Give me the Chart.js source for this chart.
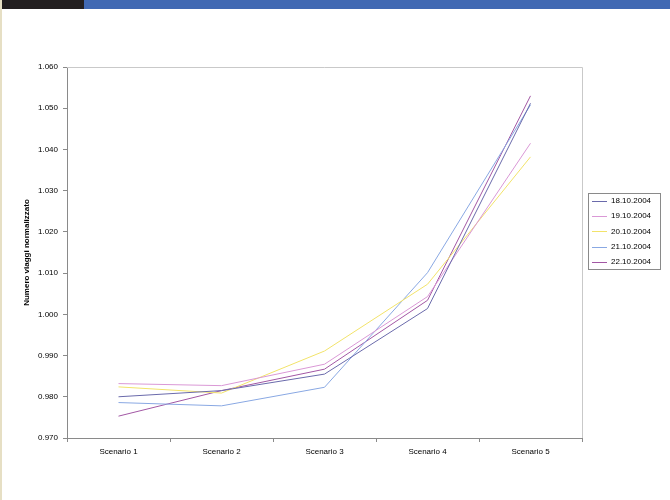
<!DOCTYPE html>
<html>
<head>
<meta charset="utf-8">
<script src="https://cdn.jsdelivr.net/npm/chart.js@4.4.1/dist/chart.umd.min.js"></script>
<style>
  html, body { margin: 0; padding: 0; background: #ffffff; }
  #page { position: relative; width: 670px; height: 500px; overflow: hidden; background: #ffffff; }
  #strip { position: absolute; left: 0; top: 0; width: 2px; height: 500px; background: #e6dfc4; }
  #barDark { position: absolute; left: 2px; top: 0; width: 82px; height: 9px; background: #231f20; }
  #barBlue { position: absolute; left: 84px; top: 0; width: 586px; height: 9px; background: #4169b3; }
  #wrap { position: absolute; left: 0; top: 0; width: 670px; height: 500px; }
</style>
</head>
<body>
<div id="page">
  <div id="wrap"><canvas id="c" width="670" height="500"></canvas></div>
  <div id="strip"></div>
  <div id="barDark"></div>
  <div id="barBlue"></div>
</div>
<script>
// Scenarios on the x axis
const scenarios = ['Scenario 1', 'Scenario 2', 'Scenario 3', 'Scenario 4', 'Scenario 5'];

// Survey days (series labels)
const days = ['18.10.2004', '19.10.2004', '20.10.2004', '21.10.2004', '22.10.2004'];

// Normalised number of trips per scenario, one array per day
const trips_18 = [0.9800, 0.9815, 0.9855, 1.0014, 1.0512];
const trips_19 = [0.9832, 0.9827, 0.9879, 1.0043, 1.0415];
const trips_20 = [0.9824, 0.9809, 0.9911, 1.0073, 1.0382];
const trips_21 = [0.9786, 0.9778, 0.9823, 1.0101, 1.0508];
const trips_22 = [0.9753, 0.9815, 0.9867, 1.0034, 1.0530];

// Value axis range and step
const yMin = 0.970;
const yMax = 1.060;
const yStep = 0.010;

const seriesValues = [trips_18, trips_19, trips_20, trips_21, trips_22];
const seriesColors = ['#6a6aab', '#da98d6', '#f2e36a', '#89a8e3', '#a257a4'];

const FONT = "'Liberation Sans', Arial, sans-serif";

// Frame on the top and right of the plot area plus a boxed legend at the right
const framePlugin = {
  id: 'frameAndLegend',
  afterDraw(chart) {
    const ctx = chart.ctx;
    const a = chart.chartArea;
    ctx.save();
    ctx.strokeStyle = '#c9c9c9';
    ctx.lineWidth = 1;
    ctx.beginPath();
    ctx.moveTo(a.left, a.top + 0.5);
    ctx.lineTo(a.right + 0.5, a.top + 0.5);
    ctx.lineTo(a.right + 0.5, a.bottom);
    ctx.stroke();

    // legend
    const lx = 588, ly = 193, lw = 72, lh = 76;
    ctx.strokeStyle = '#8a8a8a';
    ctx.strokeRect(lx + 0.5, ly + 0.5, lw, lh);
    ctx.font = '8px ' + FONT;
    ctx.textBaseline = 'middle';
    ctx.fillStyle = '#000000';
    chart.data.datasets.forEach((ds, i) => {
      const yy = ly + 7.5 + i * 15.4;
      ctx.strokeStyle = ds.borderColor;
      ctx.beginPath();
      ctx.moveTo(lx + 4, Math.round(yy) + 0.5);
      ctx.lineTo(lx + 19, Math.round(yy) + 0.5);
      ctx.stroke();
      ctx.fillText(ds.label, lx + 23, yy);
    });
    ctx.restore();
  }
};

new Chart(document.getElementById('c'), {
  type: 'line',
  data: {
    labels: scenarios,
    datasets: days.map((d, i) => ({
      label: d,
      data: seriesValues[i],
      borderColor: seriesColors[i],
      backgroundColor: seriesColors[i],
      borderWidth: 1,
      pointRadius: 0,
      tension: 0,
      fill: false
    }))
  },
  options: {
    responsive: false,
    animation: false,
    events: [],
    layout: { padding: { top: 67, right: 88, bottom: 0, left: 0 } },
    plugins: {
      legend: { display: false },
      tooltip: { enabled: false }
    },
    scales: {
      x: {
        offset: true,
        grid: {
          offset: true,
          drawOnChartArea: false,
          tickLength: 4,
          color: '#8a8a8a'
        },
        border: { color: '#8a8a8a' },
        ticks: {
          font: { family: FONT, size: 8 },
          color: '#000000',
          padding: 5,
          maxRotation: 0
        },
        afterFit(scale) { scale.height = 62; }
      },
      y: {
        min: yMin,
        max: yMax,
        grid: {
          drawOnChartArea: false,
          tickLength: 4,
          color: '#8a8a8a'
        },
        border: { color: '#8a8a8a' },
        ticks: {
          stepSize: yStep,
          font: { family: FONT, size: 8 },
          color: '#000000',
          padding: 5,
          callback: v => Number(v).toFixed(3)
        },
        title: {
          display: true,
          text: 'Numero viaggi normalizzato',
          font: { family: FONT, size: 8, weight: 'bold' },
          color: '#000000',
          padding: { top: 22, bottom: 0 }
        },
        afterFit(scale) { scale.width = 67; }
      }
    }
  },
  plugins: [framePlugin]
});
</script>
</body>
</html>
